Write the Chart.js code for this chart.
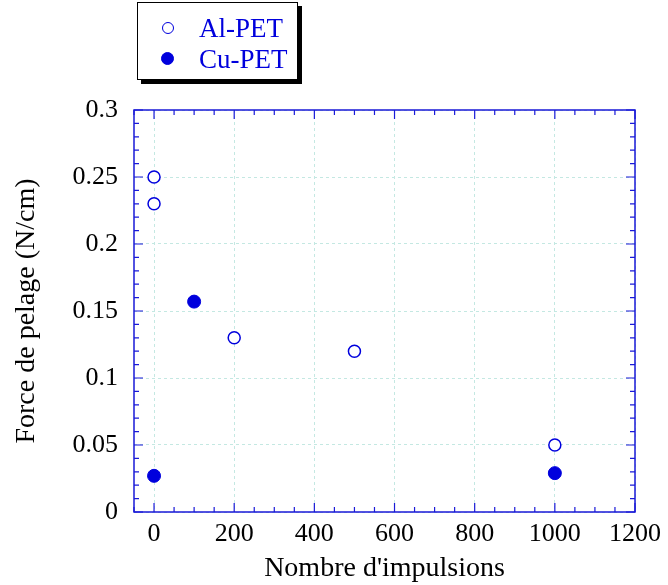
<!DOCTYPE html>
<html>
<head>
<meta charset="utf-8">
<script src="https://cdn.jsdelivr.net/npm/chart.js@4/dist/chart.umd.min.js"></script>
<style>
  html, body { margin: 0; padding: 0; background: #fff; }
  #wrap { position: relative; width: 668px; height: 585px; }
  #legend { position: absolute; left: 137px; top: 2px; width: 159px; height: 76px;
    border: 1.5px solid #000; box-shadow: 4px 4px 0 #000; background: #fff;
    font-family: "Liberation Serif", "Times New Roman", serif; font-size: 27px; color: #0000dd; }
  .row { position: absolute; left: 0; height: 30px; line-height: 30px; }
  .mk { position: absolute; left: 24px; top: 9px; width: 12px; height: 12px; border-radius: 50%; box-sizing: border-box; border: 1.5px solid #0000dd; }
  .mk.f { background: #0000dd; width: 13px; height: 13px; left: 23px; top: 8px; }
  .lb { position: absolute; left: 61px; top: 0; white-space: nowrap; }
</style>
</head>
<body>
<div id="wrap">
  <canvas id="c" width="668" height="585"></canvas>
  <div id="legend">
    <div class="row" style="top:10px;"><span class="mk"></span><span class="lb" id="l0"></span></div>
    <div class="row" style="top:41px;"><span class="mk f"></span><span class="lb" id="l1"></span></div>
  </div>
</div>
<script>
const seriesNames = ["Al-PET", "Cu-PET"];
const alX = [0, 0, 200, 500, 1000];
const alY = [0.25, 0.23, 0.13, 0.12, 0.05];
const cuX = [0, 100, 1000];
const cuY = [0.027, 0.157, 0.029];
const xTicks = [0, 200, 400, 600, 800, 1000, 1200];
const yTicks = [0, 0.05, 0.1, 0.15, 0.2, 0.25, 0.3];
const xMinor = [-50, 50, 100, 150, 250, 300, 350, 450, 500, 550, 650, 700, 750, 850, 900, 950, 1050, 1100, 1150];
const yMinor = [0.01, 0.02, 0.03, 0.04, 0.06, 0.07, 0.08, 0.09, 0.11, 0.12, 0.13, 0.14, 0.16, 0.17, 0.18, 0.19, 0.21, 0.22, 0.23, 0.24, 0.26, 0.27, 0.28, 0.29];
const xTitle = "Nombre d'impulsions";
const yTitle = "Force de pelage (N/cm)";

document.getElementById('l0').textContent = seriesNames[0];
document.getElementById('l1').textContent = seriesNames[1];

const AXIS = '#1a1ad8';
const PT = '#0000dd';
const GRID = '#c4e8e2';
const FONT = "'Liberation Serif', 'Times New Roman', serif";

const frame = {
  id: 'frame',
  afterDatasetsDraw(chart) {
    const { ctx, chartArea: a, scales: { x, y } } = chart;
    ctx.save();
    ctx.strokeStyle = AXIS;
    ctx.lineWidth = 1.5;
    ctx.beginPath();
    ctx.rect(a.left, a.top, a.right - a.left, a.bottom - a.top);
    ctx.stroke();
    ctx.lineWidth = 1.2;
    ctx.beginPath();
    const tk = (vals, len, isX) => {
      vals.forEach(v => {
        if (isX) {
          const p = x.getPixelForValue(v);
          if (p < a.left - 0.5 || p > a.right + 0.5) return;
          ctx.moveTo(p, a.bottom); ctx.lineTo(p, a.bottom - len);
          ctx.moveTo(p, a.top); ctx.lineTo(p, a.top + len);
        } else {
          const p = y.getPixelForValue(v);
          ctx.moveTo(a.left, p); ctx.lineTo(a.left + len, p);
          ctx.moveTo(a.right, p); ctx.lineTo(a.right - len, p);
        }
      });
    };
    tk(xTicks, 9, true); tk(xMinor, 5, true);
    tk(yTicks, 9, false); tk(yMinor, 5, false);
    ctx.stroke();
    ctx.restore();
  }
};

new Chart(document.getElementById('c'), {
  type: 'scatter',
  data: {
    datasets: [
      { label: seriesNames[0], data: alX.map((v, i) => ({ x: v, y: alY[i] })),
        pointRadius: 6, pointHoverRadius: 6, pointBorderWidth: 1.5,
        pointBackgroundColor: '#ffffff', pointBorderColor: PT },
      { label: seriesNames[1], data: cuX.map((v, i) => ({ x: v, y: cuY[i] })),
        pointRadius: 6.5, pointHoverRadius: 6.5, pointBorderWidth: 1,
        pointBackgroundColor: PT, pointBorderColor: PT }
    ]
  },
  options: {
    responsive: false,
    animation: false,
    events: [],
    layout: { padding: { left: 0, right: 32, top: 110, bottom: 0 } },
    plugins: { legend: { display: false }, tooltip: { enabled: false } },
    scales: {
      x: {
        type: 'linear', min: -50, max: 1200,
        afterBuildTicks: s => { s.ticks = xTicks.map(v => ({ value: v })); },
        afterFit: s => { s.height = 73; },
        grid: { color: GRID, lineWidth: 1, drawTicks: false },
        border: { display: false, dash: [3, 3] },
        ticks: { color: '#000', font: { family: FONT, size: 26 }, padding: 7, maxRotation: 0, callback: v => String(v) },
        title: { display: true, text: xTitle, color: '#000', font: { family: FONT, size: 28 }, padding: { top: 0, bottom: 0 } }
      },
      y: {
        type: 'linear', min: 0, max: 0.3,
        afterBuildTicks: s => { s.ticks = yTicks.map(v => ({ value: v })); },
        afterFit: s => { s.width = 134; },
        grid: { color: GRID, lineWidth: 1, drawTicks: false },
        border: { display: false, dash: [3, 3] },
        ticks: { color: '#000', font: { family: FONT, size: 26 }, padding: 16, callback: v => String(+v.toFixed(2)) },
        title: { display: true, text: yTitle, color: '#000', font: { family: FONT, size: 28 }, padding: { top: 10, bottom: 0 } }
      }
    }
  },
  plugins: [frame]
});
</script>
</body>
</html>
